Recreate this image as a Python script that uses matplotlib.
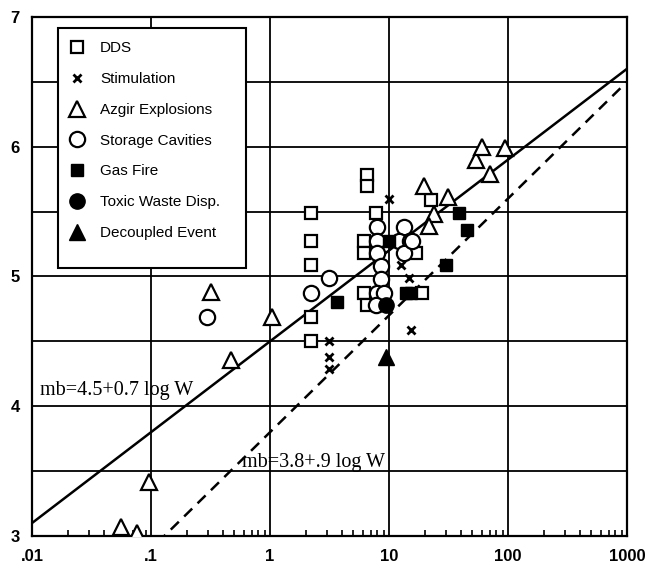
import numpy as np
import matplotlib
matplotlib.use("Agg")
import matplotlib.pyplot as plt
from matplotlib.patches import Rectangle
from matplotlib.ticker import FixedLocator, LogLocator, NullFormatter

# =========================
# DATA (yield W in kt, magnitude mb)
# =========================

dds_w = [2.2, 2.2, 2.2, 2.2, 2.2, 6.5, 6.5, 7.8, 6.2, 6.2, 6.2, 6.5, 16.9, 18.9, 22.5]
dds_mb = [5.49, 5.27, 5.09, 4.69, 4.50, 5.78, 5.70, 5.49, 5.27, 5.18, 4.87, 4.78, 5.18, 4.87, 5.59]

stim_w = [10.0, 12.6, 14.8, 15.3, 3.15, 3.15, 3.15]
stim_mb = [5.60, 5.09, 4.99, 4.59, 4.50, 4.38, 4.29]

azgir_w = [0.056, 0.076, 0.096, 0.32, 0.47, 1.03, 19.7, 31.3, 23.9, 21.7, 54, 60, 95, 70]
azgir_mb = [3.07, 3.02, 3.42, 4.88, 4.36, 4.69, 5.70, 5.61, 5.48, 5.39, 5.90, 6.00, 5.99, 5.79]

cav_w = [0.293, 2.2, 3.15, 7.95, 13.4, 7.95, 7.95, 8.6, 8.6, 7.95, 9.0, 7.8, 12.2, 15.0, 13.4, 15.6]
cav_mb = [4.69, 4.87, 4.99, 5.38, 5.38, 5.27, 5.18, 5.08, 4.98, 4.87, 4.87, 4.78, 5.27, 5.27, 5.18, 5.27]

gas_w = [3.67, 10.0, 13.9, 15.2, 30.0, 38.7, 45.0]
gas_mb = [4.80, 5.27, 4.87, 4.87, 5.09, 5.49, 5.36]

toxic_w = [9.45]
toxic_mb = [4.78]

decoupled_w = [9.5]
decoupled_mb = [4.38]

x_ticks = [0.01, 0.1, 1, 10, 100, 1000]
x_labels = [".01", ".1", "1", "10", "100", "1000"]
y_ticks = [3, 4, 5, 6, 7]
grid_y = [3.5, 4, 4.5, 5, 5.5, 6, 6.5]
grid_x = [0.1, 1, 10, 100]

# =========================
# FIGURE
# =========================

fig = plt.figure(figsize=(6.56, 5.68), dpi=100)
ax = fig.add_axes([0.0488, 0.0563, 0.907, 0.914])
ax.set_xscale("log")
ax.set_xlim(0.01, 1000)
ax.set_ylim(3, 7)

for g in grid_y:
    ax.axhline(g, color="black", lw=1.3, zorder=1)
for g in grid_x:
    ax.axvline(g, color="black", lw=1.3, zorder=1)

# fit lines
w = np.logspace(-2, 3, 200)
ax.plot(w, 4.5 + 0.7 * np.log10(w), color="black", lw=1.8, zorder=2)
ax.plot(w, 3.8 + 0.9 * np.log10(w), color="black", lw=1.8, ls=(0, (4.5, 3)), zorder=2)

ax.plot(dds_w, dds_mb, "s", ms=8, mfc="white", mec="black", mew=1.6, ls="none",
        label="DDS", zorder=3)
ax.plot(stim_w, stim_mb, "x", ms=6, mec="black", mew=2, ls="none",
        label="Stimulation", zorder=4)
ax.plot(azgir_w, azgir_mb, "^", ms=11, mfc="white", mec="black", mew=1.6, ls="none",
        label="Azgir Explosions", zorder=3)
ax.plot(cav_w, cav_mb, "o", ms=11, mfc="white", mec="black", mew=1.6, ls="none",
        label="Storage Cavities", zorder=3)
ax.plot(gas_w, gas_mb, "s", ms=8, color="black", ls="none",
        label="Gas Fire", zorder=4)
ax.plot(toxic_w, toxic_mb, "o", ms=11, color="black", ls="none",
        label="Toxic Waste Disp.", zorder=4)
ax.plot(decoupled_w, decoupled_mb, "^", ms=11, color="black", ls="none",
        label="Decoupled Event", zorder=4)

ax.text(0.0117, 4.12, "mb=4.5+0.7 log W", family="Liberation Serif", fontsize=14.5,
        va="center", ha="left", zorder=5)
ax.text(0.58, 3.57, "mb=3.8+.9 log W", family="Liberation Serif", fontsize=14.5,
        va="center", ha="left", zorder=5)

# axes styling
for s in ax.spines.values():
    s.set_linewidth(1.6)
ax.xaxis.set_major_locator(FixedLocator(x_ticks))
ax.set_xticklabels(x_labels, family="Liberation Sans", fontweight="bold", fontsize=12)
ax.xaxis.set_minor_locator(LogLocator(base=10, subs=np.arange(2, 10)))
ax.xaxis.set_minor_formatter(NullFormatter())
ax.set_yticks(y_ticks)
ax.set_yticklabels([str(v) for v in y_ticks], family="Liberation Sans",
                   fontweight="bold", fontsize=12)
ax.tick_params(axis="x", which="major", length=0, pad=9)
ax.tick_params(axis="x", which="minor", direction="in", length=4, width=1.2)
ax.tick_params(axis="y", length=0, pad=9)

# legend box drawn separately so its padding matches the original
box = Rectangle((0.044, 0.516), 0.316, 0.463, transform=ax.transAxes,
                facecolor="white", edgecolor="black", lw=1.5, zorder=6)
ax.add_patch(box)
leg = ax.legend(loc="upper left", bbox_to_anchor=(0.062, 0.953), frameon=False,
                prop={"family": "Liberation Sans", "size": 11},
                labelspacing=1.1, handlelength=1.0, handletextpad=1.05,
                borderpad=0, borderaxespad=0)
leg.set_zorder(7)

fig.savefig("out.png", dpi=100)
